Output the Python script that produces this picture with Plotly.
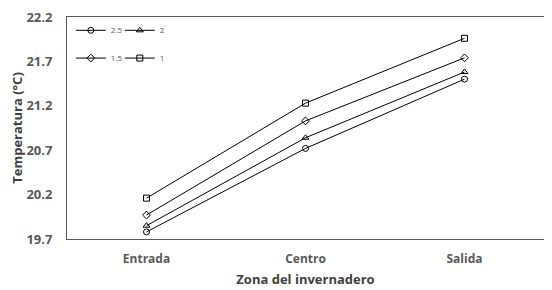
import plotly.graph_objects as go

zones = ["Entrada", "Centro", "Salida"]
s25 = [19.78, 20.72, 21.50]
s2 = [19.85, 20.84, 21.58]
s15 = [19.97, 21.03, 21.74]
s1 = [20.16, 21.23, 21.96]
yticks = [19.7, 20.2, 20.7, 21.2, 21.7, 22.2]

series = [
    ("2.5", s25, "circle-open", "legend"),
    ("2", s2, "triangle-up-open", "legend"),
    ("1.5", s15, "diamond-open", "legend2"),
    ("1", s1, "square-open", "legend2"),
]

fig = go.Figure()
for name, vals, sym, lg in series:
    fig.add_trace(go.Scatter(
        x=zones, y=vals, name=name, mode="lines+markers",
        line=dict(color="black", width=1),
        marker=dict(symbol=sym, size=6, color="black", line=dict(color="black", width=1)),
        legend=lg,
    ))

font = "Open Sans, DejaVu Sans, sans-serif"
legstyle = dict(orientation="h", bgcolor="rgba(0,0,0,0)", font=dict(size=8, color="#595959", family=font),
                entrywidth=4, entrywidthmode="pixels", xanchor="left", yanchor="middle",
                itemwidth=30, tracegroupgap=0)

fig.update_layout(
    width=544, height=282,
    margin=dict(l=59, r=8, t=9, b=51),
    plot_bgcolor="white", paper_bgcolor="white",
    font=dict(family=font),
    legend=dict(x=0.008, y=0.94, **legstyle),
    legend2=dict(x=0.008, y=0.815, **legstyle),
    xaxis=dict(
        type="category", range=[-0.5, 2.5], automargin=False,
        showline=True, linecolor="#595959", linewidth=1, mirror="all",
        showgrid=False, ticks="outside", ticklen=9, tickcolor="rgba(0,0,0,0)",
        tickfont=dict(size=12, color="#595959", family=font, weight="bold"),
        title=dict(text="Zona del invernadero", font=dict(size=13, color="#404040", family=font, weight="bold"), standoff=8),
    ),
    yaxis=dict(
        range=[19.7, 22.2], tickvals=yticks, ticktext=[f"{v:.1f}" for v in yticks], automargin=False,
        ticklabeloverflow="allow",
        showline=True, linecolor="#595959", linewidth=1, mirror="all",
        showgrid=False, zeroline=False, ticks="outside", ticklen=11, tickcolor="rgba(0,0,0,0)",
        tickfont=dict(size=13, color="#595959", family=font, weight="bold"),
        title=dict(text="Temperatura (°C)", font=dict(size=13, color="#404040", family=font, weight="bold"), standoff=3),
    ),
)

fig.write_html("out.html")
